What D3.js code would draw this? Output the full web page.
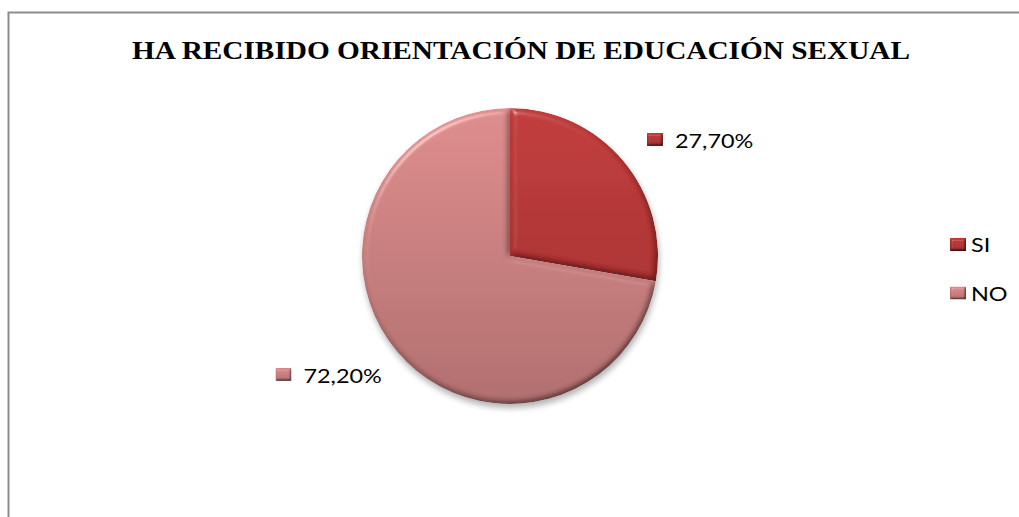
<!DOCTYPE html>
<html>
<head>
<meta charset="utf-8">
<script src="https://cdn.jsdelivr.net/npm/d3@7"></script>
<style>
  html, body { margin: 0; padding: 0; background: #fff; }
  svg { display: block; }
</style>
</head>
<body>
<svg id="chart" width="1019" height="517"></svg>
<script>

var title_text = 'HA RECIBIDO ORIENTACIÓN DE EDUCACIÓN SEXUAL';
var categories = [ 'SI', 'NO' ];
var values = [ 27.7, 72.2 ];
var value_labels = [ '27,70%', '72,20%' ];

// top / bottom tones of each slice
var colors_top = [ '#c23b3b', '#de8c8c' ];
var colors_bottom = [ '#9b2a2a', '#b06e6e' ];

var svg = d3.select( '#chart' );
var defs = svg.append( 'defs' );

var cx = 510, cy = 256, radius = 148;
// the source picture is stretched a little horizontally, text and markers too
var stretch = 1.2;
var label_font = 'Lato, "Open Sans", sans-serif';

// frame
svg.append( 'rect' )
    .attr( 'x', 8.5 ).attr( 'y', 12.5 )
    .attr( 'width', 1100 ).attr( 'height', 600 )
    .attr( 'fill', '#fff' )
    .attr( 'stroke', '#8c8c8c' )
    .attr( 'stroke-width', 2 );

// title
svg.append( 'text' )
    .attr( 'x', 132 ).attr( 'y', 59 )
    .attr( 'textLength', 778 )
    .attr( 'lengthAdjust', 'spacingAndGlyphs' )
    .style( 'font-family', '"Liberation Serif", "Times New Roman", serif' )
    .style( 'font-weight', 'bold' )
    .style( 'font-size', '24.5px' )
    .text( title_text );

// gradients
categories.forEach( function ( c, i ) {
    var g = defs.append( 'linearGradient' )
        .attr( 'id', 'grad' + i )
        .attr( 'gradientUnits', 'userSpaceOnUse' )
        .attr( 'x1', 0 ).attr( 'y1', -radius )
        .attr( 'x2', 0 ).attr( 'y2', radius );
    g.append( 'stop' ).attr( 'offset', '0%' ).attr( 'stop-color', colors_top[ i ] );
    g.append( 'stop' ).attr( 'offset', '100%' ).attr( 'stop-color', colors_bottom[ i ] );

    var m = defs.append( 'linearGradient' )
        .attr( 'id', 'mgrad' + i )
        .attr( 'x1', 0 ).attr( 'y1', 0 ).attr( 'x2', 0 ).attr( 'y2', 1 );
    m.append( 'stop' ).attr( 'offset', '0%' ).attr( 'stop-color', colors_top[ i ] );
    m.append( 'stop' ).attr( 'offset', '100%' ).attr( 'stop-color', colors_bottom[ i ] );
});

// bevel filter: diffuse shading (dark edges) plus a specular rim (light edges)
function make_bevel ( id, blur, scale ) {
    var f = defs.append( 'filter' ).attr( 'id', id )
        .attr( 'x', '-10%' ).attr( 'y', '-10%' ).attr( 'width', '120%' ).attr( 'height', '120%' );
    f.append( 'feGaussianBlur' ).attr( 'in', 'SourceAlpha' ).attr( 'stdDeviation', blur ).attr( 'result', 'blur' );
    var diff = f.append( 'feDiffuseLighting' )
        .attr( 'in', 'blur' ).attr( 'surfaceScale', scale )
        .attr( 'diffuseConstant', 1.155 )
        .attr( 'lighting-color', '#ffffff' ).attr( 'result', 'diff' );
    diff.append( 'feDistantLight' ).attr( 'azimuth', 235 ).attr( 'elevation', 60 );
    f.append( 'feComposite' ).attr( 'in', 'SourceGraphic' ).attr( 'in2', 'diff' )
        .attr( 'operator', 'arithmetic' ).attr( 'k1', 1 ).attr( 'k2', 0 ).attr( 'k3', 0 ).attr( 'k4', 0 )
        .attr( 'result', 'shaded' );
    var spec = f.append( 'feSpecularLighting' )
        .attr( 'in', 'blur' ).attr( 'surfaceScale', scale )
        .attr( 'specularConstant', 0.6 ).attr( 'specularExponent', 40 )
        .attr( 'lighting-color', '#ffffff' ).attr( 'result', 'spec' );
    spec.append( 'feDistantLight' ).attr( 'azimuth', 235 ).attr( 'elevation', 40 );
    f.append( 'feComposite' ).attr( 'in', 'spec' ).attr( 'in2', 'SourceAlpha' ).attr( 'operator', 'in' ).attr( 'result', 'specOut' );
    f.append( 'feComposite' ).attr( 'in', 'shaded' ).attr( 'in2', 'specOut' )
        .attr( 'operator', 'arithmetic' ).attr( 'k1', 0 ).attr( 'k2', 1 ).attr( 'k3', 0.5 ).attr( 'k4', 0 )
        .attr( 'result', 'lit' );
    f.append( 'feComposite' ).attr( 'in', 'lit' ).attr( 'in2', 'SourceAlpha' ).attr( 'operator', 'in' );
}
make_bevel( 'bevel', 3, 4 );
make_bevel( 'bevel_small', 1.2, 2.5 );

// shadow filter
var shadow = defs.append( 'filter' ).attr( 'id', 'shadow' )
    .attr( 'x', '-20%' ).attr( 'y', '-20%' ).attr( 'width', '140%' ).attr( 'height', '140%' );
shadow.append( 'feGaussianBlur' ).attr( 'stdDeviation', 3 );

var pie = d3.pie().sort( null ).value( function ( d ) { return d; } );
var arcs = pie( values );
var arc = d3.arc().innerRadius( 0 ).outerRadius( radius );

var chart = svg.append( 'g' ).attr( 'transform', 'translate(' + cx + ',' + cy + ')' );

// soft shadow under the pie
chart.append( 'circle' )
    .attr( 'cx', 1 ).attr( 'cy', 4 ).attr( 'r', radius )
    .attr( 'fill', '#000' ).attr( 'opacity', 0.3 )
    .attr( 'filter', 'url(#shadow)' );

chart.selectAll( 'path.slice' )
    .data( arcs )
    .enter().append( 'path' )
    .attr( 'class', 'slice' )
    .attr( 'd', arc )
    .attr( 'fill', function ( d, i ) { return 'url(#grad' + i + ')'; } )
    .attr( 'filter', 'url(#bevel)' );

// beveled marker + stretched text
function entry ( sel, i, text, gap, baseline ) {
    sel.append( 'rect' )
        .attr( 'width', 16 ).attr( 'height', 13 )
        .attr( 'fill', 'url(#mgrad' + i + ')' )
        .attr( 'filter', 'url(#bevel_small)' );
    sel.append( 'text' )
        .attr( 'transform', 'translate(' + gap + ',' + baseline + ') scale(' + stretch + ',1)' )
        .style( 'font-family', label_font )
        .style( 'font-size', '19.5px' )
        .attr( 'fill', '#000' )
        .text( text );
}

// data labels, marker centre placed in polar coordinates around the pie
var label_pos = [ { angle: 51.2, r: 186 }, { angle: 242.4, r: 255.6 } ];

arcs.forEach( function ( d, i ) {
    var a = label_pos[ i ].angle * Math.PI / 180;
    var mx = Math.sin( a ) * label_pos[ i ].r;
    var my = -Math.cos( a ) * label_pos[ i ].r;
    var g = chart.append( 'g' ).attr( 'transform', 'translate(' + ( mx - 8 ) + ',' + ( my - 6.5 ) + ')' );
    entry( g, i, value_labels[ i ], 28, 15.5 );
});

// legend
var legend = svg.append( 'g' ).attr( 'transform', 'translate(950,238)' );
categories.forEach( function ( c, i ) {
    var g = legend.append( 'g' ).attr( 'transform', 'translate(0,' + ( i * 48.5 ) + ')' );
    entry( g, i, c, 21, 14 );
});

</script>
</body>
</html>
